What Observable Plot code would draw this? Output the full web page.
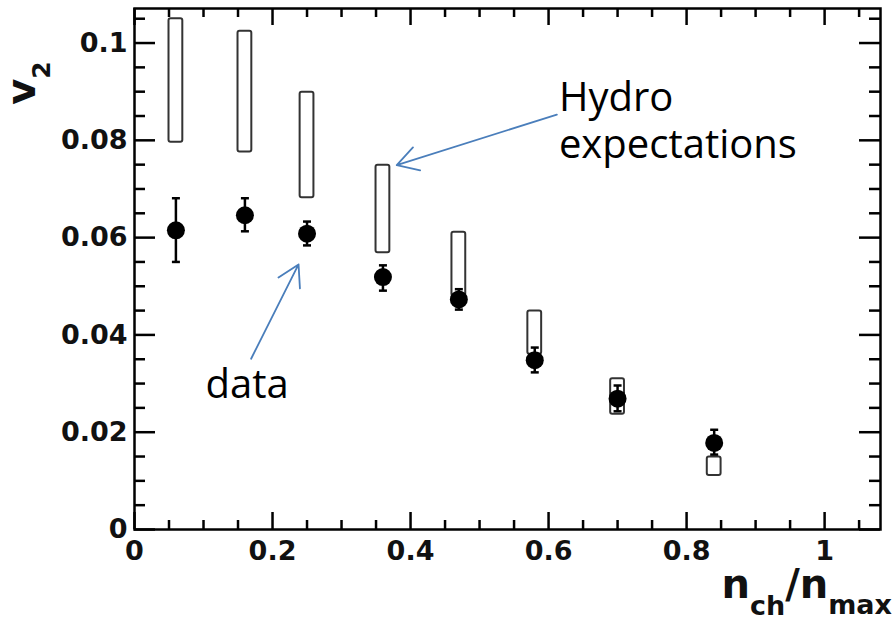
<!DOCTYPE html>
<html>
<head>
<meta charset="utf-8">
<script src="https://cdn.jsdelivr.net/npm/d3@7"></script>
<script src="https://cdn.jsdelivr.net/npm/@observablehq/plot@0.6"></script>
<style>
  html, body { margin: 0; padding: 0; background: #fff; }
  #chart svg { display: block; }
</style>
</head>
<body>
<div id="chart"></div>
<script>
// ---- data ----
const nch     = [0.06, 0.16, 0.25, 0.36, 0.47, 0.58, 0.70, 0.84];
const v2      = [0.0615, 0.0646, 0.0608, 0.0519, 0.0473, 0.0348, 0.0269, 0.0178];
const errLo   = [0.0550, 0.0613, 0.0584, 0.0491, 0.0452, 0.0323, 0.0243, 0.0154];
const errHi   = [0.0681, 0.0681, 0.0633, 0.0543, 0.0494, 0.0374, 0.0296, 0.0205];
const hydroLo = [0.0796, 0.0776, 0.0682, 0.0569, 0.0480, 0.0360, 0.0237, 0.0111];
const hydroHi = [0.1050, 0.1024, 0.0899, 0.0749, 0.0611, 0.0449, 0.0310, 0.0149];

const xMajor = [0, 0.2, 0.4, 0.6, 0.8, 1];
const xMinor = [0.05, 0.1, 0.15, 0.25, 0.3, 0.35, 0.45, 0.5, 0.55, 0.65, 0.7, 0.75, 0.85, 0.9, 0.95, 1.05];
const yMajor = [0, 0.02, 0.04, 0.06, 0.08, 0.1];
const yMinor = [0.005, 0.01, 0.015, 0.025, 0.03, 0.035, 0.045, 0.05, 0.055, 0.065, 0.07, 0.075, 0.085, 0.09, 0.095, 0.105];
const xTickLabels = ["0", "0.2", "0.4", "0.6", "0.8", "1"];
const yTickLabels = ["0", "0.02", "0.04", "0.06", "0.08", "0.1"];

// annotations (data units)
const labelText = ["Hydro\nexpectations", "data"];
const labelX    = [0.615, 0.103];
const labelY    = [0.0842, 0.0301];
const arrowX1   = [0.612, 0.169];
const arrowY1   = [0.0853, 0.0351];
const arrowX2   = [0.380, 0.2377];
const arrowY2   = [0.0749, 0.0545];

// ---- tables ----
const points = nch.map((x, i) => ({x, v: v2[i], lo: errLo[i], hi: errHi[i], hlo: hydroLo[i], hhi: hydroHi[i]}));
const labels = labelText.map((t, i) => ({t, x: labelX[i], y: labelY[i]}));
const arrows = arrowX1.map((x1, i) => ({x1, y1: arrowY1[i], x2: arrowX2[i], y2: arrowY2[i]}));

const W = 894, H = 621;
const mL = 134, mR = 14, mT = 8, mB = 92;
const innerW = W - mL - mR, innerH = H - mT - mB;

const capSymbol = {
  draw(ctx, size) {
    const r = Math.sqrt(size / Math.PI);
    ctx.moveTo(-r, 0);
    ctx.lineTo(r, 0);
  }
};

const tickFont = {fontFamily: "DejaVu Sans", fontWeight: "bold", fontSize: 27, fill: "#111"};

const chart = Plot.plot({
  width: W,
  height: H,
  marginLeft: mL, marginRight: mR, marginTop: mT, marginBottom: mB,
  style: {background: "#fff", color: "#111", overflow: "visible"},
  x: {domain: [0, 1.081]},
  y: {domain: [0, 0.1071]},
  marks: [
    // hydro boxes
    Plot.rect(points, {x1: d => d.x - 0.01, x2: d => d.x + 0.01, y1: "hlo", y2: "hhi",
      fill: "none", stroke: "#333", strokeWidth: 2, rx: 2}),
    // error bars
    Plot.ruleX(points, {x: "x", y1: "lo", y2: "hi", stroke: "#000", strokeWidth: 2.5}),
    Plot.dot(points, {x: "x", y: "lo", symbol: capSymbol, r: 4, stroke: "#000", strokeWidth: 2.5, fill: "none"}),
    Plot.dot(points, {x: "x", y: "hi", symbol: capSymbol, r: 4, stroke: "#000", strokeWidth: 2.5, fill: "none"}),
    // data points
    Plot.dot(points, {x: "x", y: "v", r: 9, fill: "#000", stroke: "none"}),
    // inner ticks
    Plot.tickX(xMajor, {x: d => d, insetTop: innerH - 17, stroke: "#000", strokeWidth: 2.5}),
    Plot.tickX(xMinor, {x: d => d, insetTop: innerH - 9, stroke: "#000", strokeWidth: 2.5}),
    Plot.tickX(xMajor, {x: d => d, insetBottom: innerH - 17, stroke: "#000", strokeWidth: 2.5}),
    Plot.tickX(xMinor, {x: d => d, insetBottom: innerH - 9, stroke: "#000", strokeWidth: 2.5}),
    Plot.tickY(yMajor, {y: d => d, insetRight: innerW - 21, stroke: "#000", strokeWidth: 2.5}),
    Plot.tickY(yMinor, {y: d => d, insetRight: innerW - 11, stroke: "#000", strokeWidth: 2.5}),
    Plot.tickY(yMajor, {y: d => d, insetLeft: innerW - 21, stroke: "#000", strokeWidth: 2.5}),
    Plot.tickY(yMinor, {y: d => d, insetLeft: innerW - 11, stroke: "#000", strokeWidth: 2.5}),
    Plot.frame({stroke: "#000", strokeWidth: 2.5}),
    // tick labels
    Plot.axisX({ticks: xMajor, tickSize: 0, tickPadding: 11, label: null,
      tickFormat: d => xTickLabels[xMajor.indexOf(d)], ...tickFont}),
    Plot.axisY({ticks: yMajor, tickSize: 0, tickPadding: 7, label: null,
      tickFormat: d => yTickLabels[yMajor.indexOf(d)], ...tickFont}),
    // annotations
    Plot.arrow(arrows, {x1: "x1", y1: "y1", x2: "x2", y2: "y2", stroke: "#4a7ebb",
      strokeWidth: 1.8, headLength: 20, headAngle: 60}),
    Plot.text(labels, {x: "x", y: "y", text: "t", textAnchor: "start", lineAnchor: "middle",
      lineHeight: 1.175, fontSize: 40, fontFamily: "Open Sans", fill: "#000"})
  ]
});

document.getElementById("chart").appendChild(chart);

// axis titles with subscripts
const svg = d3.select(chart);
const yl = svg.append("text")
  .attr("transform", "translate(35,83) rotate(-90)")
  .attr("font-family", "DejaVu Sans").attr("font-weight", "bold")
  .attr("font-size", 40).attr("fill", "#111");
yl.append("tspan").text("v");
yl.append("tspan").attr("font-size", 25).attr("dy", 15).text("2");

const xl = svg.append("text")
  .attr("x", 892).attr("y", 598)
  .attr("text-anchor", "end")
  .attr("font-family", "DejaVu Sans").attr("font-weight", "bold")
  .attr("font-size", 40).attr("fill", "#111");
xl.append("tspan").text("n");
xl.append("tspan").attr("font-size", 27).attr("dy", 17).text("ch");
xl.append("tspan").attr("dy", -17).text("/");
xl.append("tspan").text("n");
xl.append("tspan").attr("font-size", 27).attr("dy", 16).text("max");
</script>
</body>
</html>
